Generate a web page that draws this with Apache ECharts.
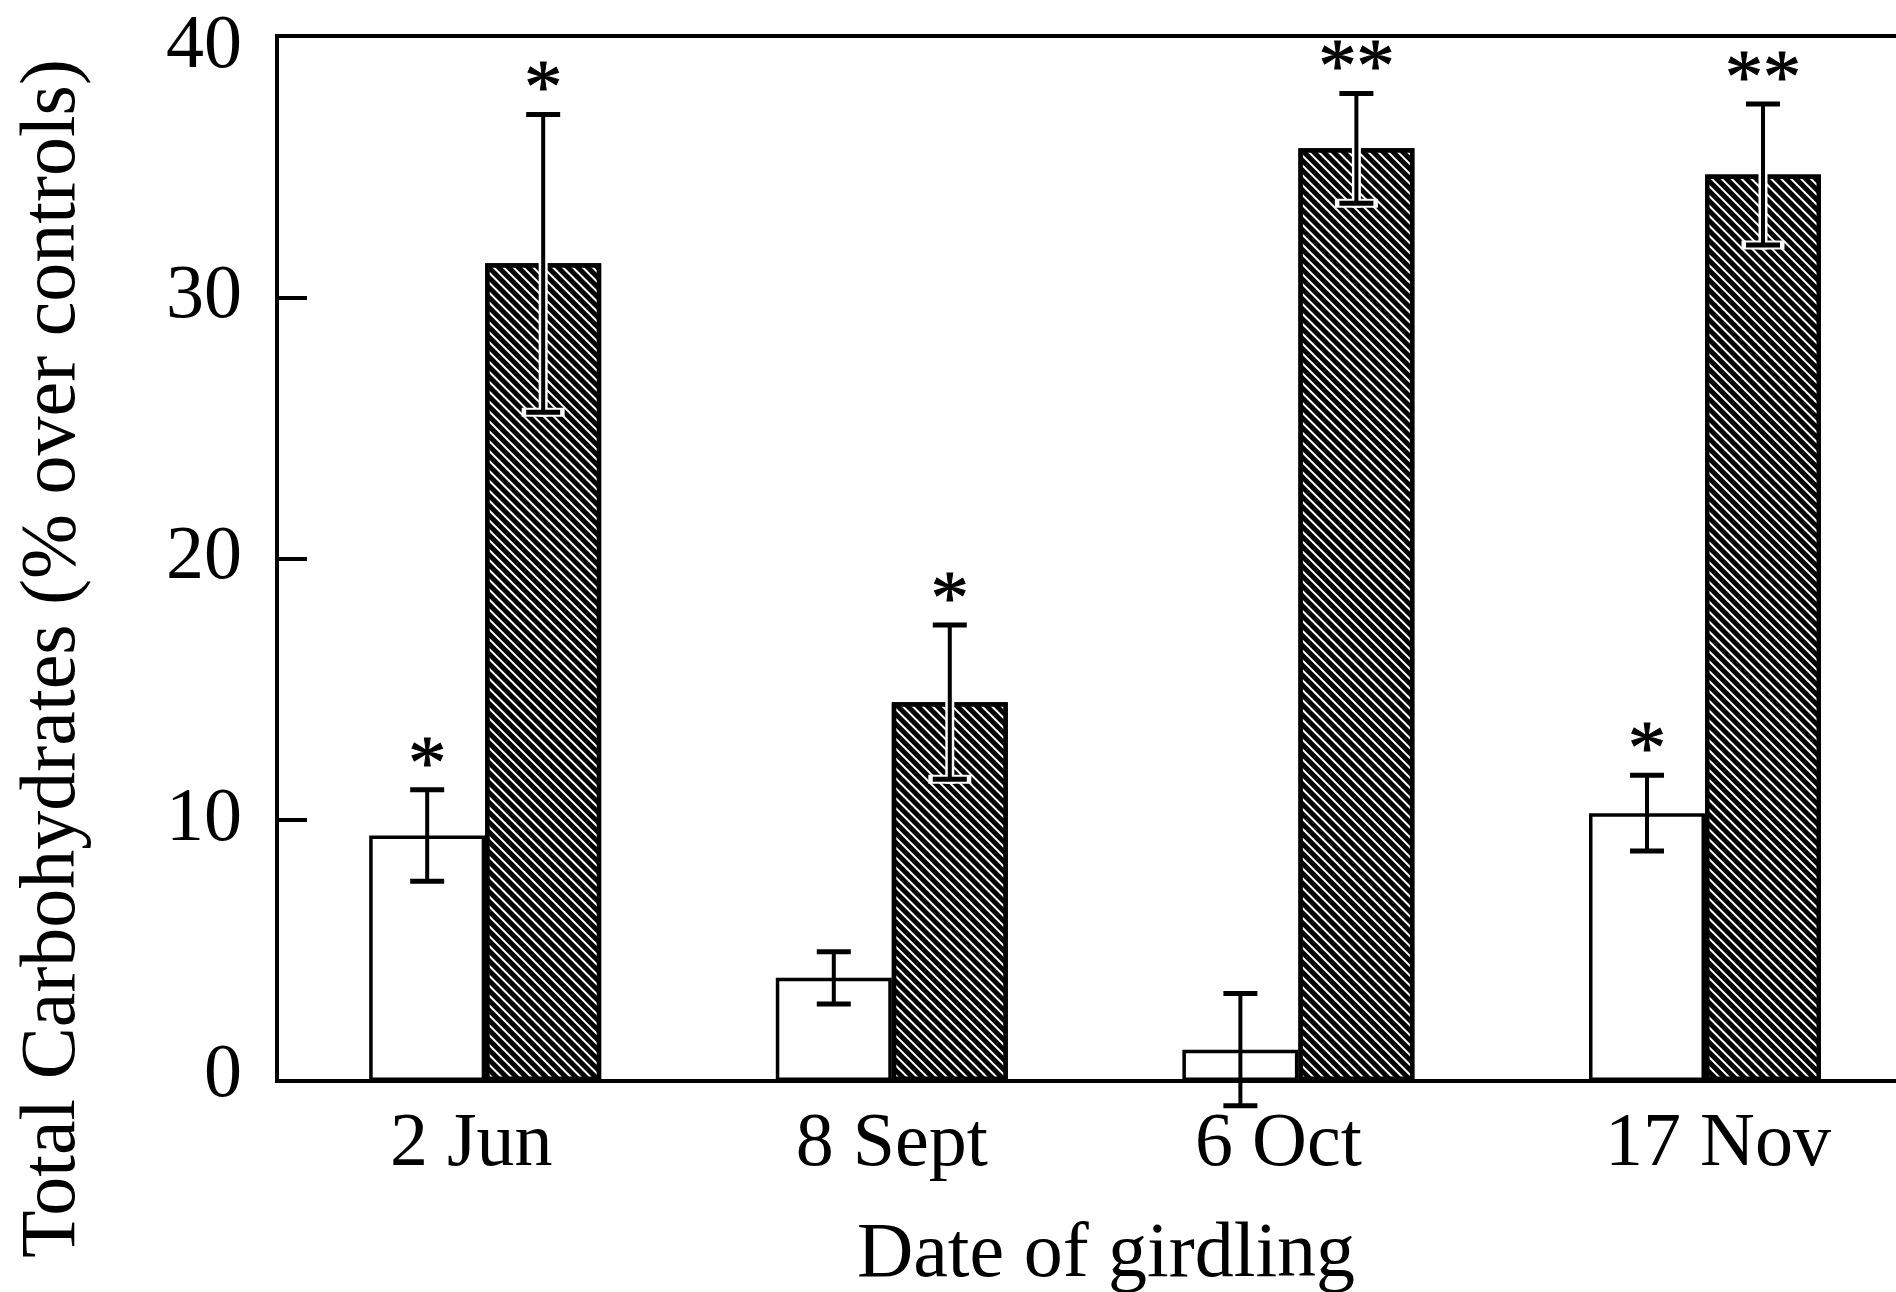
<!DOCTYPE html>
<html><head><meta charset="utf-8">
<script src="https://cdn.jsdelivr.net/npm/echarts@6/dist/echarts.min.js"></script>
<style>html,body{margin:0;padding:0;background:#fff;} #chart{width:1896px;height:1292px;}</style>
</head><body><div id="chart"></div>
<script>
// ---- data ----
const categories = ['2 Jun', '8 Sept', '6 Oct', '17 Nov'];
const openValues = [9.4, 3.95, 1.2, 10.25];
const openErrors = [1.75, 1.0, 2.15, 1.45];
const openSig = ['*', '', '', '*'];
const hatchedValues = [31.3, 14.5, 35.7, 34.7];
const hatchedErrors = [5.7, 2.95, 2.1, 2.7];
const hatchedSig = ['*', '*', '**', '**'];
const yTickValues = [0, 10, 20, 30, 40];
const xTitle = 'Date of girdling';
const yTitle = 'Total Carbohydrates (% over controls)';

// ---- style / layout ----
const FONT = '"Liberation Serif", "Times New Roman", serif';
const BAR_PX = 116;
const X_MIN = -0.512, X_MAX = 3.5214;
// per-label horizontal padding [left, right] to mimic the original label placement
const LABEL_PAD = [[0, 28], [0, 0], [0, 40], [26, 0]];

const catIndex = categories.map((c, i) => i);
function pairs(vals) { return vals.map((v, i) => [catIndex[i], v]); }
function errData(vals, errs) { return vals.map((v, i) => [catIndex[i], v, errs[i]]); }

const xRich = {};
LABEL_PAD.forEach((p, i) => {
  xRich['c' + i] = { fontSize: 76, fontFamily: FONT, color: '#000', padding: [0, p[1], 0, p[0]] };
});

function makeErrRender(side, sig, halo) {
  return function (params, api) {
    const idx = api.value(0), val = api.value(1), err = api.value(2);
    const c = api.coord([idx, val]);
    const x = c[0] + side * BAR_PX / 2;
    const yTop = api.coord([idx, val + err])[1];
    const yBot = api.coord([idx, val - err])[1];
    const cap = 17;
    const children = [];
    if (halo) {
      const segs = [[x, c[1] + 4, x, yBot], [x - cap, yBot, x + cap, yBot]];
      segs.forEach(s => children.push({ type: 'line', shape: { x1: s[0], y1: s[1], x2: s[2], y2: s[3] }, style: { stroke: '#fff', lineWidth: 9, lineCap: 'square' } }));
    }
    const lines = [[x, yTop, x, yBot], [x - cap, yTop, x + cap, yTop], [x - cap, yBot, x + cap, yBot]];
    lines.forEach((s, k) => children.push({ type: 'line', shape: { x1: s[0], y1: s[1], x2: s[2], y2: s[3] }, style: { stroke: '#000', lineWidth: k === 0 ? 4 : 5 } }));
    const s = sig[params.dataIndex];
    if (s) {
      children.push({ type: 'text', style: { text: s, x: x, y: yTop - 22, align: 'center', verticalAlign: 'middle', font: '76px ' + FONT, fill: '#000', stroke: '#000', lineWidth: 1 } });
    }
    return { type: 'group', children: children };
  };
}

const chart = echarts.init(document.getElementById('chart'), null, { renderer: 'canvas' });
chart.setOption({
  animation: false,
  backgroundColor: '#fff',
  grid: {
    left: 277, top: 36, width: 1640, bottom: 211,
    outerBoundsMode: 'none', containLabel: false,
    show: true, borderColor: '#000', borderWidth: 4, backgroundColor: 'transparent'
  },
  xAxis: {
    type: 'value', min: X_MIN, max: X_MAX,
    axisLine: { show: true, onZero: false, lineStyle: { color: '#000', width: 4 } },
    axisTick: { show: false },
    splitLine: { show: false },
    axisLabel: {
      color: '#000', fontSize: 76, fontFamily: FONT, margin: 26,
      customValues: catIndex,
      formatter: v => { const i = Math.round(v); return '{c' + i + '|' + categories[i] + '}'; },
      rich: xRich
    },
    name: xTitle, nameLocation: 'middle', nameGap: 136,
    nameTextStyle: { color: '#000', fontSize: 78, fontFamily: FONT, padding: [0, 0, 0, 18] }
  },
  yAxis: {
    type: 'value', min: yTickValues[0], max: yTickValues[yTickValues.length - 1], interval: yTickValues[1] - yTickValues[0],
    axisLine: { show: true, onZero: false, lineStyle: { color: '#000', width: 4 } },
    axisTick: { show: true, inside: true, length: 30, lineStyle: { color: '#000', width: 4 } },
    splitLine: { show: false },
    axisLabel: {
      color: '#000', fontSize: 76, fontFamily: FONT, margin: 35,
      formatter: v => v === 40 ? '{t|' + v + '}' : (v === 0 ? '{b|' + v + '}' : '' + v),
      rich: {
        t: { fontSize: 76, fontFamily: FONT, color: '#000', padding: [22, 0, 0, 0] },
        b: { fontSize: 76, fontFamily: FONT, color: '#000', padding: [0, 0, 10, 0] }
      }
    },
    name: yTitle, nameLocation: 'middle', nameGap: 184, nameRotate: 90,
    nameTextStyle: { color: '#000', fontSize: 78, fontFamily: FONT, padding: [0, 200, 0, 0] }
  },
  series: [
    {
      name: 'Open', type: 'bar', data: pairs(openValues), barWidth: BAR_PX, barGap: '0%',
      itemStyle: { color: '#fff', borderColor: '#000', borderWidth: 3.5 }, z: 2
    },
    {
      name: 'Hatched', type: 'bar', data: pairs(hatchedValues), barWidth: BAR_PX, barGap: '0%',
      itemStyle: {
        color: '#000', borderColor: '#000', borderWidth: 4.5,
        decal: { symbol: 'rect', symbolSize: 1, dashArrayX: [1, 0], dashArrayY: [2, 5], rotation: Math.PI / 4, color: '#fff', backgroundColor: '#000' }
      }, z: 2
    },
    { type: 'custom', data: errData(openValues, openErrors), renderItem: makeErrRender(-1, openSig, false), z: 5 },
    { type: 'custom', data: errData(hatchedValues, hatchedErrors), renderItem: makeErrRender(1, hatchedSig, true), z: 5 }
  ]
});
</script></body></html>
